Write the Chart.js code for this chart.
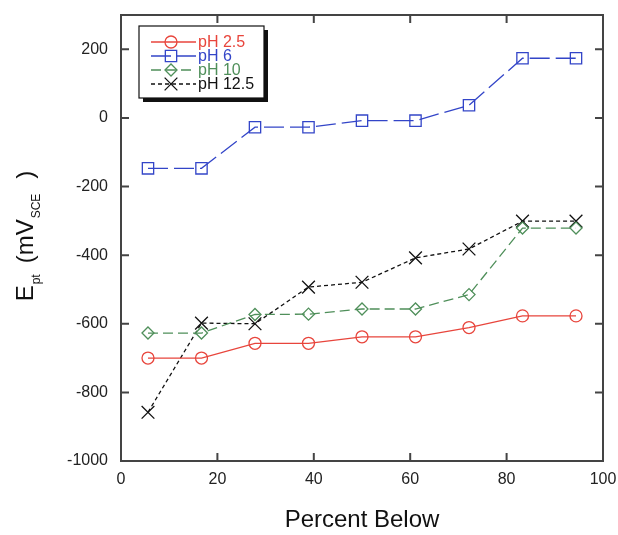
<!DOCTYPE html>
<html>
<head>
<meta charset="utf-8">
<script src="https://cdn.jsdelivr.net/npm/chart.js@4.4.1/dist/chart.umd.min.js"></script>
<style>
    html, body { margin: 0; padding: 0; background: #fff; }
    #wrap { width: 618px; height: 535px; }
</style>
</head>
<body>
<div id="wrap"><canvas id="ept-chart" width="618" height="535"></canvas></div>
<script>
// percent below (x) for each of the 9 specimens
var pctBelow = [5.6, 16.7, 27.8, 38.9, 50, 61.1, 72.2, 83.3, 94.4];
var ph25 = [-700, -700, -657, -657, -638, -638, -611, -577, -577];
var ph6 = [-147, -147, -27, -27, -8, -8, 37, 174, 174];
var ph10 = [-627, -627, -573, -572, -557, -557, -515, -321, -321];
var ph125 = [-858, -598, -600, -493, -479, -408, -382, -301, -301];
var seriesLabels = ['pH 2.5', 'pH 6', 'pH 10', 'pH 12.5'];
var xTicks = [0, 20, 40, 60, 80, 100];
var yTicks = [-1000, -800, -600, -400, -200, 0, 200];

var fontFamily = "'Liberation Sans', Arial, Helvetica, sans-serif";

function toPoints(ys) {
    var pts = [];
    for (var i = 0; i < pctBelow.length; i++) {
        pts.push({ x: pctBelow[i], y: ys[i] });
    }
    return pts;
}

function makeSet(label, ys, color, dash, style, radius) {
    return {
        label: label,
        data: toPoints(ys),
        showLine: true,
        borderColor: color,
        borderWidth: 1.3,
        borderDash: dash,
        tension: 0,
        pointStyle: style,
        pointRadius: radius,
        pointBorderColor: color,
        pointBorderWidth: 1.3,
        pointBackgroundColor: 'rgba(0,0,0,0)',
        fill: false
    };
}

// frame with inward ticks on all four sides
var framePlugin = {
    id: 'frame',
    afterDatasetsDraw: function (chart) {
        var ctx = chart.ctx;
        var a = chart.chartArea;
        var xs = chart.scales.x, ys = chart.scales.y;
        var tl = 8;
        ctx.save();
        ctx.strokeStyle = '#444';
        ctx.lineWidth = 2;
        ctx.strokeRect(a.left, a.top, a.right - a.left, a.bottom - a.top);
        ctx.beginPath();
        xTicks.forEach(function (v) {
            var px = xs.getPixelForValue(v);
            ctx.moveTo(px, a.bottom); ctx.lineTo(px, a.bottom - tl);
            ctx.moveTo(px, a.top); ctx.lineTo(px, a.top + tl);
        });
        yTicks.forEach(function (v) {
            var py = ys.getPixelForValue(v);
            ctx.moveTo(a.left, py); ctx.lineTo(a.left + tl, py);
            ctx.moveTo(a.right, py); ctx.lineTo(a.right - tl, py);
        });
        ctx.stroke();
        ctx.restore();
    }
};

// y axis title with subscripts
var yTitlePlugin = {
    id: 'yTitle',
    afterDraw: function (chart) {
        var ctx = chart.ctx;
        var big = '24px ' + fontFamily, small = '12px ' + fontFamily;
        var parts = [
            { t: 'E', f: big, dy: 0, gap: 0 },
            { t: 'pt', f: small, dy: 7, gap: 1 },
            { t: '(mV', f: big, dy: 0, gap: 11 },
            { t: 'SCE', f: small, dy: 7, gap: 1 },
            { t: ')', f: big, dy: 0, gap: 15 }
        ];
        ctx.save();
        ctx.fillStyle = '#111';
        ctx.textBaseline = 'alphabetic';
        var total = 0;
        parts.forEach(function (p) { ctx.font = p.f; p.w = ctx.measureText(p.t).width; total += p.gap + p.w; });
        ctx.translate(33, 236);
        ctx.rotate(-Math.PI / 2);
        var x = -total / 2;
        parts.forEach(function (p) {
            x += p.gap;
            ctx.font = p.f;
            ctx.fillText(p.t, x, p.dy);
            x += p.w;
        });
        ctx.restore();
    }
};

// boxed legend with drop shadow
var legendPlugin = {
    id: 'boxLegend',
    afterDraw: function (chart) {
        var ctx = chart.ctx;
        var bx = 139, by = 26, bw = 125, bh = 72;
        ctx.save();
        ctx.fillStyle = '#111';
        ctx.fillRect(bx + 4, by + 4, bw, bh);
        ctx.fillStyle = '#fff';
        ctx.fillRect(bx, by, bw, bh);
        ctx.strokeStyle = '#111';
        ctx.lineWidth = 1.2;
        ctx.strokeRect(bx, by, bw, bh);
        var rows = [42, 56, 70, 84];
        chart.data.datasets.forEach(function (ds, i) {
            var y = rows[i];
            ctx.strokeStyle = ds.borderColor;
            ctx.lineWidth = ds.borderWidth;
            ctx.setLineDash(ds.borderDash || []);
            ctx.beginPath();
            ctx.moveTo(151, y);
            ctx.lineTo(196, y);
            ctx.stroke();
            ctx.setLineDash([]);
            ctx.fillStyle = 'rgba(0,0,0,0)';
            Chart.helpers.drawPoint(ctx, {
                pointStyle: ds.pointStyle,
                radius: ds.pointRadius,
                rotation: 0,
                borderWidth: ds.pointBorderWidth
            }, 171, y);
            ctx.fillStyle = ds.borderColor;
            ctx.font = '16px ' + fontFamily;
            ctx.textBaseline = 'middle';
            ctx.fillText(ds.label, 198, y + 1);
        });
        ctx.restore();
    }
};

var tickFont = { family: fontFamily, size: 16 };

var ctx = document.getElementById('ept-chart').getContext('2d');
var eptChart = new Chart(ctx, {
    type: 'scatter',
    data: {
        datasets: [
            makeSet(seriesLabels[0], ph25, '#e8453c', [], 'circle', 6),
            makeSet(seriesLabels[1], ph6, '#3345c8', [20, 6], 'rect', 8),
            makeSet(seriesLabels[2], ph10, '#4f8f5a', [10, 5], 'rectRot', 6),
            makeSet(seriesLabels[3], ph125, '#111111', [4, 3], 'crossRot', 9)
        ]
    },
    options: {
        responsive: false,
        animation: false,
        layout: { padding: { top: 15, right: 15, left: 0, bottom: 0 } },
        plugins: {
            legend: { display: false },
            tooltip: { enabled: false }
        },
        scales: {
            x: {
                type: 'linear',
                min: 0,
                max: 100,
                afterBuildTicks: function (s) { s.ticks = xTicks.map(function (v) { return { value: v }; }); },
                afterFit: function (s) { s.height = 74; s.paddingLeft = 0; s.paddingRight = 0; },
                grid: { display: false, drawTicks: false },
                border: { display: false },
                ticks: { font: tickFont, color: '#222', padding: 9, maxRotation: 0, callback: function (v) { return String(v); } },
                title: {
                    display: true,
                    text: 'Percent Below',
                    color: '#111',
                    font: { family: fontFamily, size: 24 },
                    padding: { top: 0, bottom: 0 }
                }
            },
            y: {
                type: 'linear',
                min: -1000,
                max: 300,
                afterBuildTicks: function (s) { s.ticks = yTicks.map(function (v) { return { value: v }; }); },
                afterFit: function (s) { s.width = 121; s.paddingTop = 0; s.paddingBottom = 0; },
                grid: { display: false, drawTicks: false },
                border: { display: false },
                ticks: { font: tickFont, color: '#222', padding: 13, callback: function (v) { return String(v); } }
            }
        }
    },
    plugins: [framePlugin, yTitlePlugin, legendPlugin]
});
</script>
</body>
</html>
